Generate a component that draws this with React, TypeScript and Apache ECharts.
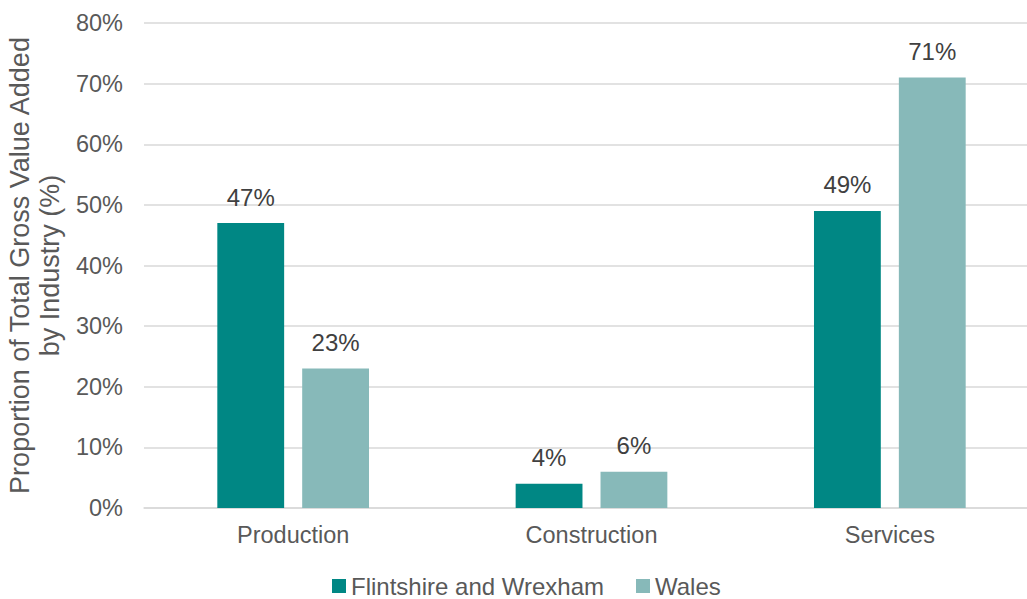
import React, { useEffect, useRef } from "react";
import * as echarts from "echarts";

const categories = ["Production", "Construction", "Services"];
const flintshire = [47, 4, 49];
const wales = [23, 6, 71];
const seriesNames = ["Flintshire and Wrexham", "Wales"];

const FONT = "'Liberation Sans', Arial, sans-serif";
const FS = 23.5;

export default function App() {
  const ref = useRef<HTMLDivElement>(null);
  useEffect(() => {
    const chart = echarts.init(ref.current!, null, { renderer: "svg" });
    const label = {
      show: true,
      position: "top",
      distance: 14,
      formatter: "{c}%",
      color: "#404040",
      fontSize: 24,
      fontFamily: FONT,
    };
    chart.setOption({
      animation: false,
      textStyle: { fontFamily: FONT },
      grid: {
        left: 144,
        right: -12,
        top: 23,
        bottom: 91,
        containLabel: false,
        outerBoundsMode: "none",
      },
      legend: {
        left: 332,
        top: 574,
        padding: 0,
        icon: "rect",
        itemWidth: 14,
        itemHeight: 14,
        itemGap: 32,
        textStyle: { color: "#595959", fontSize: 24, fontFamily: FONT },
        data: seriesNames,
      },
      xAxis: {
        type: "category",
        data: categories,
        axisLine: { lineStyle: { color: "#d9d9d9", width: 1.5 } },
        axisTick: { show: false },
        axisLabel: { color: "#595959", fontSize: FS, fontFamily: FONT, margin: 15 },
      },
      yAxis: {
        type: "value",
        min: 0,
        max: 80,
        interval: 10,
        axisLabel: { formatter: "{value}%", color: "#595959", fontSize: FS, fontFamily: FONT, margin: 21 },
        splitLine: { lineStyle: { color: "#d9d9d9", width: 1.5 } },
        axisLine: { show: false },
        name: "Proportion of Total Gross Value Added\nby Industry (%)",
        nameLocation: "middle",
        nameRotate: 90,
        nameGap: 76,
        nameTextStyle: { color: "#595959", fontSize: 27, fontFamily: FONT, lineHeight: 30 },
      },
      series: [
        {
          name: seriesNames[0],
          type: "bar",
          data: flintshire,
          barWidth: "22.4%",
          barGap: "27%",
          itemStyle: { color: "#008784" },
          label,
        },
        {
          name: seriesNames[1],
          type: "bar",
          data: wales,
          barWidth: "22.4%",
          barGap: "27%",
          itemStyle: { color: "#87B9B9" },
          label,
        },
      ],
    });
    return () => chart.dispose();
  }, []);
  return (
    <div
      ref={ref}
      style={{ position: "fixed", left: 0, top: 0, width: 1027, height: 599, background: "#fff" }}
    />
  );
}
